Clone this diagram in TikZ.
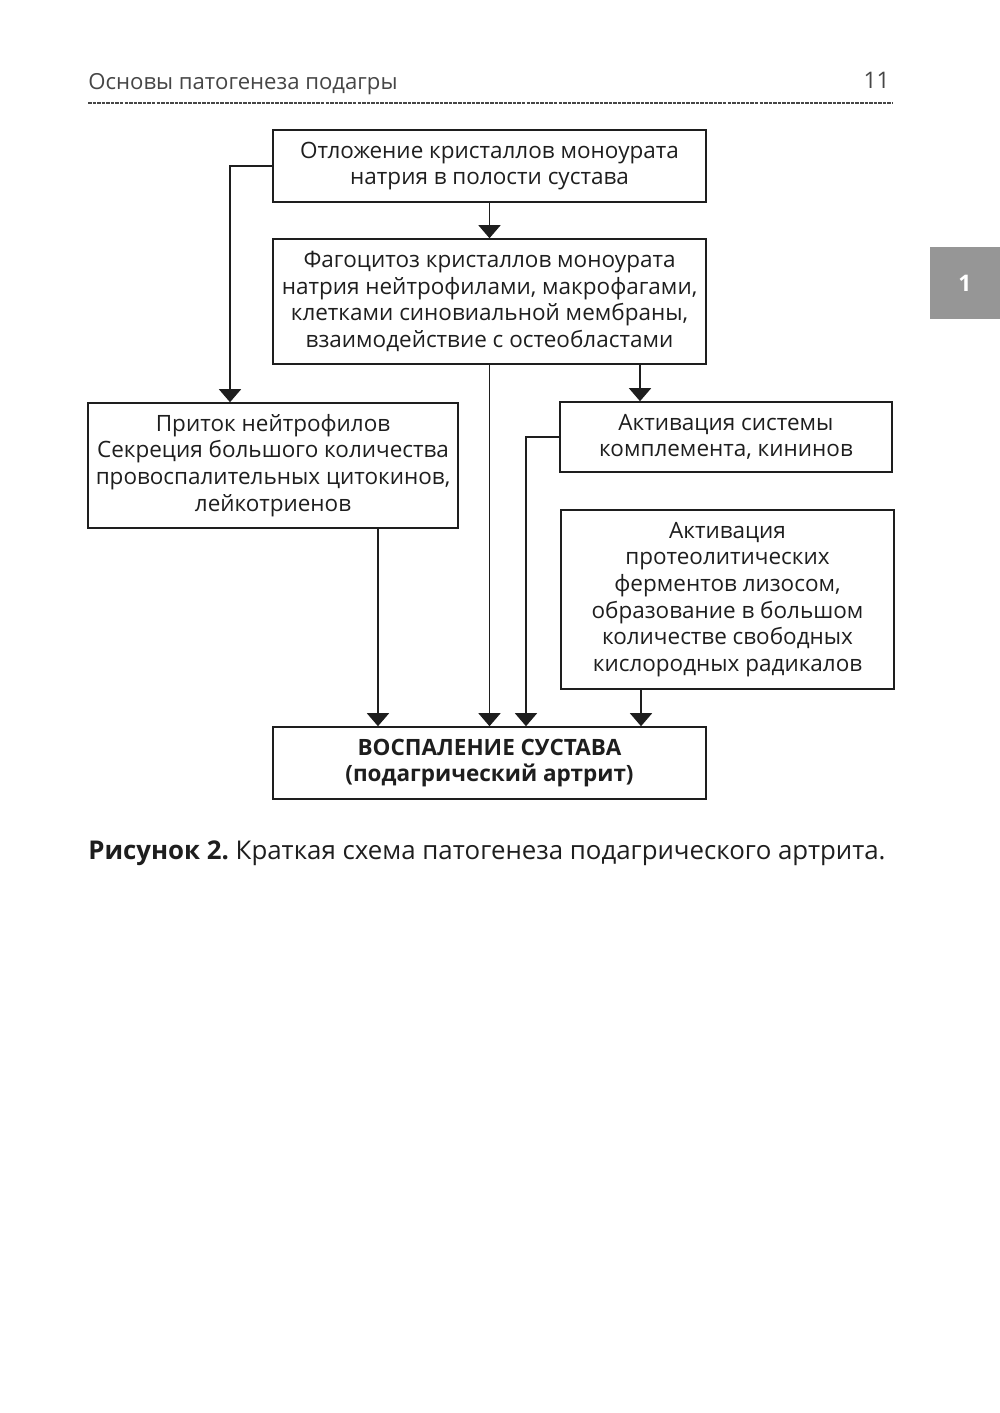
\documentclass[tikz,border=0pt]{standalone}
\usepackage{fontspec}
\setmainfont{Open Sans}
\usepackage{tikz}
\usepackage{xcolor}
\usetikzlibrary{arrows.meta, positioning, calc}
\definecolor{cText}{RGB}{30,30,30}
\definecolor{cHead}{RGB}{70,70,70}
\definecolor{cTab}{RGB}{150,150,150}
\tikzset{
	box/.style     ={rectangle, draw=cText, line width=0.9pt, align=center, text=cText, inner sep=2pt, font=\fontsize{12.8}{15.2}\selectfont},
	flow/.style    ={-{Triangle[length=0.26cm, width=0.44cm]}, line width=0.8pt, cText},
	plain/.style   ={inner sep=0pt, anchor=west},
}
\frenchspacing

\begin{document}
\begin{tikzpicture}[x=0.02cm, y=-0.02cm]
	\useasboundingbox (0,0) rectangle (1000,1413);
	% page header
	\node[plain, text=cHead, font=\fontsize{12.6}{15}\selectfont] (head) at (88,84) {Основы патогенеза подагры};
	\node[inner sep=0pt, anchor=east, text=cHead, font=\fontsize{13}{15}\selectfont] (page) at (890,80) {11};
	\draw[cHead, line width=0.6pt, dash pattern=on 2pt off 0.6pt] (88,103) -- (892,103);
	% chapter tab
	\node[rectangle, fill=cTab, minimum width=1.4cm, minimum height=1.44cm, inner sep=0pt, text=white, font=\bfseries\fontsize{13}{15}\selectfont] (tab) at (965,283) {1};
	% boxes
	\node[box, minimum width=8.66cm, minimum height=1.44cm] (b1) at (489.5,166) {Отложение кристаллов моноурата\\натрия в полости сустава};
	\node[box, minimum width=8.66cm, minimum height=2.5cm] (b2) at (489.5,301.5) {Фагоцитоз кристаллов моноурата\\натрия нейтрофилами, макрофагами,\\клетками синовиальной мембраны,\\взаимодействие с остеобластами};
	\node[box, minimum width=7.4cm, minimum height=2.5cm] (b3) at (273,465.5) {Приток нейтрофилов\\Секреция большого количества\\провоспалительных цитокинов,\\лейкотриенов};
	\node[box, minimum width=6.64cm, minimum height=1.4cm] (b4) at (726,437) {Активация системы\\комплемента, кининов};
	\node[box, minimum width=6.66cm, minimum height=3.58cm] (b5) at (727.5,599.5) {Активация\\протеолитических\\ферментов лизосом,\\образование в большом\\количестве свободных\\кислородных радикалов};
	\node[box, minimum width=8.66cm, minimum height=1.44cm, font=\bfseries\fontsize{12.8}{15.2}\selectfont] (b6) at (489.5,763) {ВОСПАЛЕНИЕ СУСТАВА\\(подагрический артрит)};
	% connectors
	\draw[flow] (b1.west) -| ([xshift=-0.86cm]b3.north);
	\draw[flow] (b1) -- (b2);
	\draw[flow] (b2.south) -- (b6.north);
	\draw[flow] ([xshift=-1.72cm]b4.north |- b2.south) -- ([xshift=-1.72cm]b4.north);
	\draw[flow] (b4.west) -| ([xshift=0.73cm]b6.north);
	\draw[flow] ([xshift=2.1cm]b3.south) -- ([xshift=2.1cm]b3.south |- b6.north);
	\draw[flow] ([xshift=-1.73cm]b5.south) -- ([xshift=-1.73cm]b5.south |- b6.north);
	% caption
	\node[plain, text=cText, font=\fontsize{14.7}{17}\selectfont] (cap) at (88,853) {\textbf{Рисунок 2.} Краткая схема патогенеза подагрического артрита.};
\end{tikzpicture}
\end{document}
